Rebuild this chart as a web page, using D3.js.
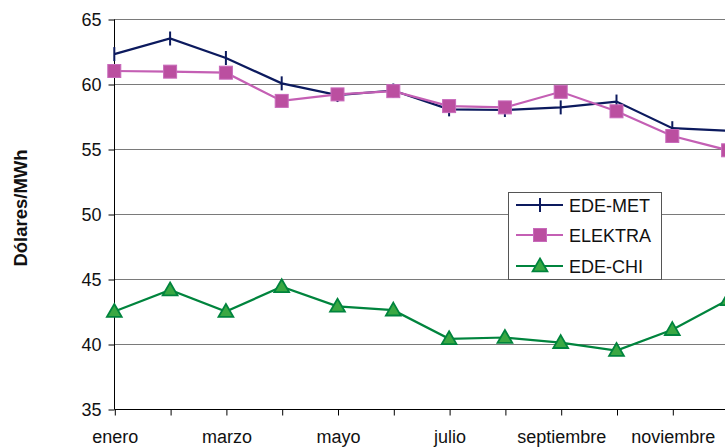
<!DOCTYPE html>
<html>
<head>
<meta charset="utf-8">
<script src="https://cdn.jsdelivr.net/npm/d3@7"></script>
<style>
  html, body { margin: 0; padding: 0; background: #fff; }
  svg { display: block; font-family: "Liberation Sans", Arial, sans-serif; }
</style>
</head>
<body>
<svg id="chart" width="725" height="447"></svg>
<script>
const months = ["enero","febrero","marzo","abril","mayo","junio","julio","agosto","septiembre","octubre","noviembre","diciembre"];
const edeMet  = [62.3, 63.5, 62.0, 60.05, 59.15, 59.5, 58.05, 58.0, 58.2, 58.65, 56.6, 56.4];
const elektra = [61.0, 60.95, 60.87, 58.7, 59.2, 59.45, 58.3, 58.2, 59.4, 57.9, 56.0, 54.9];
const edeChi  = [42.5, 44.15, 42.5, 44.4, 42.9, 42.6, 40.4, 40.5, 40.1, 39.5, 41.1, 43.4];
const yTicks = [35, 40, 45, 50, 55, 60, 65];
const yTitle = "Dólares/MWh";

const svg = d3.select("#chart");
const x = d3.scalePoint().domain(months).range([114.3, 728.1]);
const y = d3.scaleLinear().domain([35, 65]).range([409, 19]);

// gridlines
svg.append("g").selectAll("line").data(yTicks.slice(1)).join("line")
  .attr("x1", 114).attr("x2", 725)
  .attr("y1", d => Math.round(y(d)) + 0.5).attr("y2", d => Math.round(y(d)) + 0.5)
  .attr("stroke", "#7a7a7a").attr("stroke-width", 1);

// y axis
const yAxis = svg.append("g").attr("transform", "translate(114.5,0.5)")
  .call(d3.axisLeft(y).tickValues(yTicks).tickSize(6).tickPadding(7).tickFormat(d3.format("d")));
yAxis.select(".domain").attr("stroke", "#000").attr("d", `M0,${y(65)}V${y(35)}`);
yAxis.selectAll(".tick line").attr("stroke", "#000");
yAxis.selectAll(".tick text").attr("font-size", 18).attr("fill", "#111").attr("font-family", "Liberation Sans, Arial, sans-serif");

// x axis
const xAxis = svg.append("g").attr("transform", `translate(0.5,${Math.round(y(35)) + 0.5})`)
  .call(d3.axisBottom(x).tickSize(6).tickPadding(15)
    .tickFormat((d, i) => i % 2 === 0 ? d : ""));
xAxis.select(".domain").attr("stroke", "#000").attr("d", "M114,0H725");
xAxis.selectAll(".tick line").attr("stroke", "#000");
xAxis.selectAll(".tick text").attr("font-size", 18).attr("fill", "#111").attr("font-family", "Liberation Sans, Arial, sans-serif");

// y title
svg.append("text")
  .attr("transform", "translate(27,208) rotate(-90)")
  .attr("text-anchor", "middle")
  .attr("font-size", 18.5).attr("font-weight", "bold").attr("fill", "#111")
  .text(yTitle);

const series = [
  { name: "EDE-MET", values: edeMet, color: "#0c1a5e", marker: "plus" },
  { name: "ELEKTRA", values: elektra, color: "#c45fb4", marker: "square" },
  { name: "EDE-CHI", values: edeChi, color: "#00843d", marker: "triangle" }
];

const line = d3.line().x((d, i) => x(months[i])).y(d => y(d));

function drawMarker(g, type, color) {
  if (type === "plus") {
    g.append("line").attr("x1", 0).attr("x2", 0).attr("y1", -7).attr("y2", 7)
      .attr("stroke", color).attr("stroke-width", 2);
  } else if (type === "square") {
    g.append("rect").attr("x", -6.5).attr("y", -6.5).attr("width", 13).attr("height", 13)
      .attr("fill", "#bb4fa0").attr("stroke", "#c86abb").attr("stroke-width", 1);
  } else {
    g.append("path").attr("d", d3.symbol(d3.symbolTriangle, 95)())
      .attr("transform", "translate(0,1)")
      .attr("fill", "#3aa843").attr("stroke", "#00843d").attr("stroke-width", 1.8);
  }
}

series.forEach(s => {
  svg.append("path").datum(s.values).attr("d", line)
    .attr("fill", "none").attr("stroke", s.color).attr("stroke-width", 2.2);
  s.values.forEach((v, i) => {
    const g = svg.append("g").attr("transform", `translate(${x(months[i])},${y(v)})`);
    drawMarker(g, s.marker, s.color);
  });
});

// legend
const lg = svg.append("g");
lg.append("rect").attr("x", 508.5).attr("y", 192.5).attr("width", 153).attr("height", 87)
  .attr("fill", "#fff").attr("stroke", "#555").attr("stroke-width", 1);
const ly = [205, 235, 266];
series.forEach((s, i) => {
  lg.append("line").attr("x1", 516).attr("x2", 563).attr("y1", ly[i]).attr("y2", ly[i])
    .attr("stroke", s.color).attr("stroke-width", 2.2);
  const g = lg.append("g").attr("transform", `translate(540,${ly[i]})`);
  drawMarker(g, s.marker, s.color);
  lg.append("text").attr("x", 569).attr("y", ly[i] + 6.5).attr("font-size", 18).attr("fill", "#111")
    .text(s.name);
});
</script>
</body>
</html>
